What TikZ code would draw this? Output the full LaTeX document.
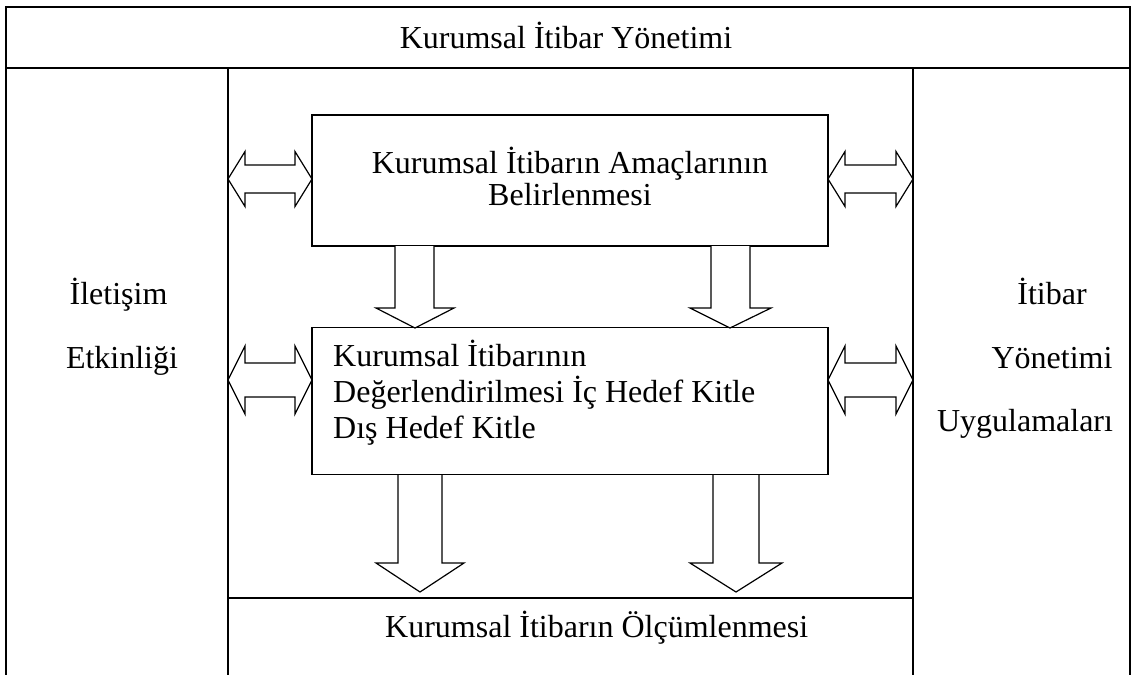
\documentclass[tikz,border=0pt]{standalone}
\usepackage{fontspec}
\setmainfont{Liberation Serif}
\begin{document}
\begin{tikzpicture}[x=1pt,y=-1pt,
  frame/.style={line width=1.6pt},
  boxline/.style={draw,line width=1.2pt},
  txt/.style={font=\fontsize{32}{38}\selectfont,inner sep=0pt,anchor=base},
  arr/.style={draw,line width=1.2pt,line join=miter,fill=white}]
\useasboundingbox (0,0) rectangle (1132,675);
% frame
\draw[frame] (6,68) -- (6,7) -- (1130,7) -- (1130,675);
\draw[frame] (6,7) -- (6,675);
\draw[frame] (6,68) -- (1130,68);
\draw[frame] (228,68) -- (228,675);
\draw[frame] (913,68) -- (913,675);
\draw[line width=1.3pt] (228,598) -- (913,598);
% boxes
\node[boxline,minimum width=516pt,minimum height=131pt,inner sep=0pt] (b1) at (570,180.5) {};
\node[boxline,minimum width=516pt,minimum height=147pt,inner sep=0pt] (b2) at (570,401) {};
% texts
\node[txt] (title) at (566,48) {Kurumsal İtibar Yönetimi};
\node[txt] (l1) at (118.5,304) {İletişim};
\node[txt] (l2) at (122,368) {Etkinliği};
\node[txt] (r1) at (1052,304) {İtibar};
\node[txt] (r2) at (1052,368) {Yönetimi};
\node[txt] (r3) at (1025,431) {Uygulamaları};
\node[txt] (t1a) at (570,173) {Kurumsal İtibarın Amaçlarının};
\node[txt] (t1b) at (570,205) {Belirlenmesi};
\node[txt,anchor=base west] (t2a) at (333,366) {Kurumsal İtibarının};
\node[txt,anchor=base west] (t2b) at (333,402) {Değerlendirilmesi İç Hedef Kitle};
\node[txt,anchor=base west] (t2c) at (333,438) {Dış Hedef Kitle};
\node[txt,anchor=base west] (bot) at (385,637) {Kurumsal İtibarın Ölçümlenmesi};
% double arrows (row 1)
\draw[arr] (228,179) -- (245,151.5) -- (245,165) -- (295,165) -- (295,151.5) -- (312,179)
  -- (295,206.5) -- (295,193) -- (245,193) -- (245,206.5) -- cycle;
\draw[arr] (828,179) -- (845,151.5) -- (845,165) -- (896,165) -- (896,151.5) -- (913,179)
  -- (896,206.5) -- (896,193) -- (845,193) -- (845,206.5) -- cycle;
% double arrows (row 2)
\draw[arr] (228,380) -- (245,346) -- (245,363) -- (295,363) -- (295,346) -- (312,380)
  -- (295,414) -- (295,397) -- (245,397) -- (245,414) -- cycle;
\draw[arr] (828,380) -- (845,346) -- (845,363) -- (896,363) -- (896,346) -- (913,380)
  -- (896,414) -- (896,397) -- (845,397) -- (845,414) -- cycle;
% down arrows b1 -> b2
\draw[arr] (395,246) -- (395,308) -- (376,308) -- (415,328) -- (454,308) -- (434,308) -- (434,246);
\draw[arr] (711,246) -- (711,308) -- (690,308) -- (730,328) -- (771,308) -- (750,308) -- (750,246);
% down arrows b2 -> bottom
\draw[arr] (398,475) -- (398,563) -- (376,563) -- (420,592) -- (464,563) -- (442,563) -- (442,475);
\draw[arr] (713,475) -- (713,563) -- (690,563) -- (736,592) -- (782,563) -- (759,563) -- (759,475);
\end{tikzpicture}
\end{document}
